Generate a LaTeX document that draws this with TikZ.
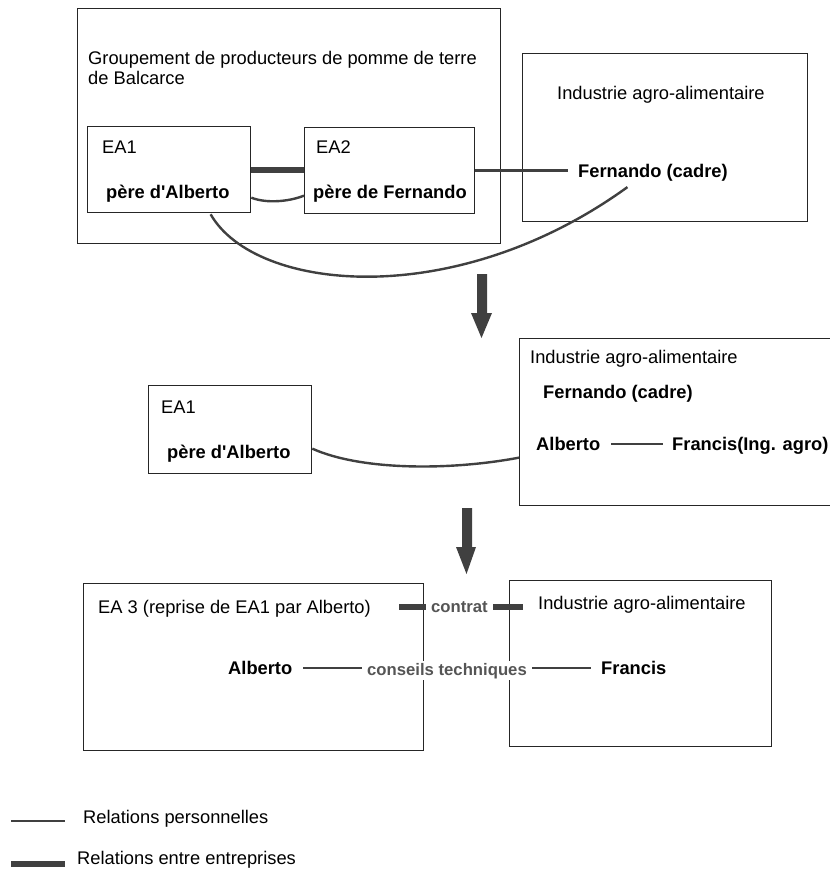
\documentclass[tikz,border=0pt]{standalone}
\usepackage{fontspec}
\setmainfont{Liberation Sans}[Ligatures=TeXOff]
\usetikzlibrary{calc}
\definecolor{ln}{HTML}{404040}
\definecolor{bd}{HTML}{262626}
\definecolor{lg}{HTML}{555555}
\begin{document}
\begin{tikzpicture}[x=1pt,y=-1pt,
  box/.style={draw=bd,line width=1.3pt,inner sep=0pt,anchor=north west},
  txt/.style={inner sep=0pt,anchor=base west,font=\fontsize{18.3}{20}\selectfont},
  who/.style={inner sep=0pt,anchor=base west,font=\fontsize{18.3}{20}\selectfont\bfseries},
  lab/.style={fill=white,inner xsep=5pt,inner ysep=2pt,text=lg,anchor=base,font=\fontsize{16.7}{18}\selectfont\bfseries},
  pers/.style={draw=ln,line width=2.4pt},
  biz/.style={draw=ln,line width=6pt}]
\useasboundingbox (0,0) rectangle (829,869);

% ---------- stage 1 ----------
\node[box,minimum width=423pt,minimum height=235pt] (grp) at (77,8) {};
\node[box,minimum width=163pt,minimum height=86pt] (ea1) at (87,126) {};
\node[box,minimum width=170pt,minimum height=86pt] (ea2) at (304,127) {};
\node[box,minimum width=285pt,minimum height=168pt] (ind1) at (522,53) {};

\node[txt,anchor=north west,align=left] (grpt) at (88,51) {Groupement de producteurs de pomme de terre\\de Balcarce};
\node[txt] (ea1t) at (102,153.5) {EA1};
\node[who] (pa1) at (106,198.5) {père d'Alberto};
\node[txt] (ea2t) at (316,153.5) {EA2};
\node[who] (pf1) at (313,198.5) {père de Fernando};
\node[txt] (ind1t) at (557,99.5) {Industrie agro-alimentaire};
\node[who] (fer1) at (578,177.5) {Fernando (cadre)};

\draw[biz] (ea1.east) -- (ea1.east -| ea2.west);
\draw[pers] ($(ea1.east)+(0,28)$) .. controls +(15,6) and +(-15,6) .. ($(ea2.west)+(0,25)$);
\draw[pers,shorten >=10pt] (ea2.east) -- (ea2.east -| fer1.west);
\draw[pers] ($(ea1.south)+(41.5,1)$) .. controls (255,292) and (455,312) .. ($(fer1.south)+(-25.5,5.6)$);

\fill[ln] (477,274) -- (487,274) -- (487,313) -- (492,313) -- (481.5,338) -- (471,313) -- (477,313) -- cycle;

% ---------- stage 2 ----------
\node[box,minimum width=312pt,minimum height=167pt] (ind2) at (519,338) {};
\node[box,minimum width=163pt,minimum height=88pt] (ea1m) at (148,385) {};

\node[txt] (ea1mt) at (161,413.5) {EA1};
\node[who] (pa2) at (167,458.5) {père d'Alberto};
\node[txt] (ind2t) at (530,363.5) {Industrie agro-alimentaire};
\node[who] (fer2) at (543,398.5) {Fernando (cadre)};
\node[who] (alb2) at (536,450.5) {Alberto};
\node[who] (fra2) at (672,450.5) {Francis(Ing. agro)};

\draw[pers] ($(ea1m.east)+(0,19)$) .. controls +(49,22) and +(-69,13) .. ($(ind2.west)+(0,35.5)$);
\draw[pers,shorten <=11pt,shorten >=9pt] (alb2.east) -- (alb2.east -| fra2.west);

\fill[ln] (462,508) -- (472,508) -- (472,547) -- (476,547) -- (466.5,574) -- (456,547) -- (462,547) -- cycle;

% ---------- stage 3 ----------
\node[box,minimum width=340pt,minimum height=167pt] (ea3) at (83,583) {};
\node[box,minimum width=262pt,minimum height=166pt] (ind3) at (509,580) {};

\node[txt] (ea3t) at (98,613.5) {EA 3 (reprise de EA1 par Alberto)};
\node[txt] (ind3t) at (538,609.5) {Industrie agro-alimentaire};
\node[who] (alb3) at (228,674.5) {Alberto};
\node[who] (fra3) at (601,674.5) {Francis};

\node[lab] (contrat) at (459.5,612) {contrat};
\node[lab] (cons) at (447,675) {conseils techniques};

\draw[biz,shorten <=28pt] (contrat.west -| ea3t.east) -- (contrat.west);
\draw[biz,shorten >=15pt] (contrat.east) -- (contrat.east -| ind3t.west);
\draw[pers,shorten <=11pt] (alb3.east) -- (alb3.east -| cons.west);
\draw[pers,shorten >=10pt] (cons.east |- fra3.west) -- (fra3.west);

% ---------- legend ----------
\coordinate (l1a) at (11,821);
\coordinate (l1b) at (65,821);
\coordinate (l2a) at (11,864);
\coordinate (l2b) at (65,864);
\draw[pers] (l1a) -- (l1b);
\draw[biz] (l2a) -- (l2b);
\node[txt] (leg1) at (83,823.5) {Relations personnelles};
\node[txt] (leg2) at (77,864.5) {Relations entre entreprises};
\end{tikzpicture}
\end{document}
